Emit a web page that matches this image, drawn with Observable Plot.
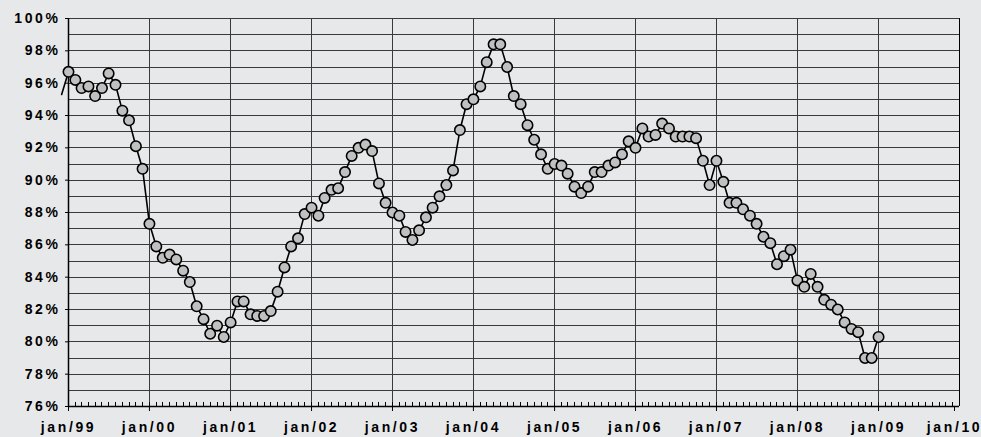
<!DOCTYPE html>
<html><head><meta charset="utf-8">
<script src="https://cdn.jsdelivr.net/npm/d3@7"></script>
<script src="https://cdn.jsdelivr.net/npm/@observablehq/plot@0.6"></script>
<style>
html,body{margin:0;padding:0;background:#e7e8ea;}
</style></head><body><div id="chart"></div>
<script>
// Monthly values (%), one array per year, January first
const v1998 = [95.3]; // December 1998 only (runs off the left edge)
const v1999 = [96.7, 96.2, 95.7, 95.8, 95.2, 95.7, 96.6, 95.9, 94.3, 93.7, 92.1, 90.7];
const v2000 = [87.3, 85.9, 85.2, 85.4, 85.1, 84.4, 83.7, 82.2, 81.4, 80.5, 81.0, 80.3];
const v2001 = [81.2, 82.5, 82.5, 81.7, 81.6, 81.6, 81.9, 83.1, 84.6, 85.9, 86.4, 87.9];
const v2002 = [88.3, 87.8, 88.9, 89.4, 89.5, 90.5, 91.5, 92.0, 92.2, 91.8, 89.8, 88.6];
const v2003 = [88.0, 87.8, 86.8, 86.3, 86.9, 87.7, 88.3, 89.0, 89.7, 90.6, 93.1, 94.7];
const v2004 = [95.0, 95.8, 97.3, 98.4, 98.4, 97.0, 95.2, 94.7, 93.4, 92.5, 91.6, 90.7];
const v2005 = [91.0, 90.9, 90.4, 89.6, 89.2, 89.6, 90.5, 90.5, 90.9, 91.1, 91.6, 92.4];
const v2006 = [92.0, 93.2, 92.7, 92.8, 93.5, 93.2, 92.7, 92.7, 92.7, 92.6, 91.2, 89.7];
const v2007 = [91.2, 89.9, 88.6, 88.6, 88.2, 87.8, 87.3, 86.5, 86.1, 84.8, 85.3, 85.7];
const v2008 = [83.8, 83.4, 84.2, 83.4, 82.6, 82.3, 82.0, 81.2, 80.8, 80.6, 79.0, 79.0];
const v2009 = [80.3];

const yTicks = [76, 78, 80, 82, 84, 86, 88, 90, 92, 94, 96, 98, 100];
const yearLabels = ["jan/99","jan/00","jan/01","jan/02","jan/03","jan/04","jan/05","jan/06","jan/07","jan/08","jan/09","jan/10"];

const years = [[1998, v1998, 11], [1999, v1999, 0], [2000, v2000, 0], [2001, v2001, 0], [2002, v2002, 0],
  [2003, v2003, 0], [2004, v2004, 0], [2005, v2005, 0], [2006, v2006, 0], [2007, v2007, 0], [2008, v2008, 0], [2009, v2009, 0]];
const data = [];
for (const [y, arr, m0] of years) arr.forEach((v, i) => data.push({date: new Date(Date.UTC(y, m0 + i, 1)), value: v}));

const start = new Date(Date.UTC(1999, 0, 1));
const end = new Date(Date.UTC(2010, 0, 1));
const yearDates = yearLabels.map((_, i) => new Date(Date.UTC(1999 + i, 0, 1)));
const monthDates = d3.utcMonth.range(start, end);
const fmtX = d => yearLabels[d.getUTCFullYear() - 1999];

const chart = Plot.plot({
  width: 981, height: 437,
  marginLeft: 68, marginRight: 22, marginTop: 18, marginBottom: 31,
  style: {background: "#e7e8ea", fontFamily: "'Liberation Sans', Arial, sans-serif", fontSize: "14px", fontWeight: "bold", letterSpacing: "2.6px", color: "black", overflow: "visible"},
  x: {type: "utc", domain: [start, end]},
  y: {domain: [76, 100]},
  marks: [
    Plot.gridY(d3.range(76, 101, 1), {stroke: "#3a3a3a", strokeOpacity: 1, strokeWidth: 1, shapeRendering: "crispEdges"}),
    Plot.gridX(yearDates, {stroke: "#3a3a3a", strokeOpacity: 1, strokeWidth: 1, shapeRendering: "crispEdges"}),
    Plot.ruleX(monthDates, {y1: 76, y2: 76.25, stroke: "black", strokeWidth: 1, shapeRendering: "crispEdges"}),
    Plot.axisX(yearDates.slice(0, -1), {tickFormat: fmtX, tickSize: 5, tickPadding: 11, label: null, stroke: "black", fill: "black"}),
    Plot.axisX(yearDates.slice(-1), {tickFormat: fmtX, tickSize: 5, tickPadding: 11, label: null, stroke: "black", fill: "black", dx: -5}),
    Plot.tickX(yearDates.slice(-1), {y1: 76, y2: 75.7, stroke: "black"}),
    Plot.axisY(yTicks, {tickFormat: d => d + "%", tickSize: 3, tickPadding: 5, label: null, stroke: "black", fill: "black"}),
    Plot.ruleX([start], {stroke: "black", strokeWidth: 1.5}),
    Plot.ruleY([76], {stroke: "black", strokeWidth: 1.5}),
    Plot.line(data, {x: "date", y: "value", stroke: "black", strokeWidth: 1.6}),
    Plot.dot(data.filter(d => d.date >= start), {x: "date", y: "value", r: 5.2, fill: "#c0c0c0", stroke: "black", strokeWidth: 1.6})
  ]
});
document.getElementById("chart").appendChild(chart);
</script></body></html>
